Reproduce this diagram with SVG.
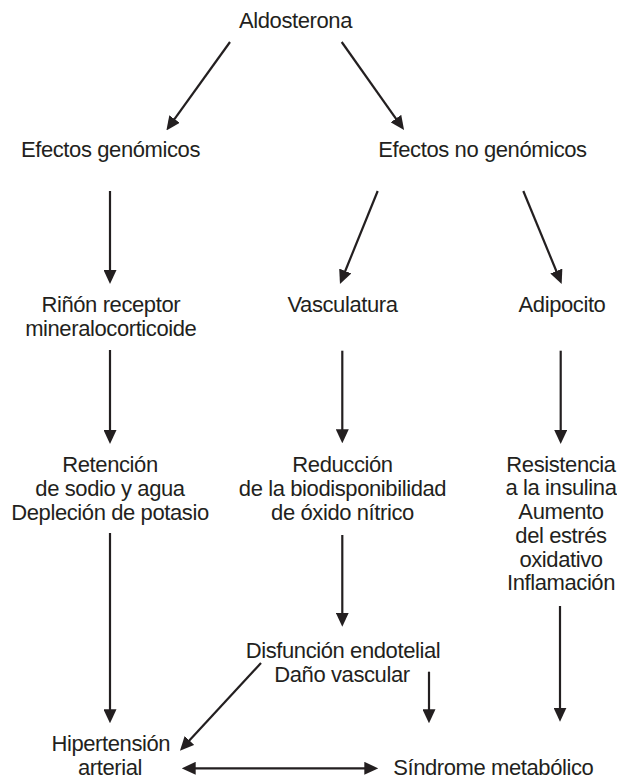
<svg xmlns="http://www.w3.org/2000/svg" width="617" height="779" viewBox="0 0 617 779">
<style>
text{font-family:"Liberation Sans",Arial,sans-serif;font-size:22px;letter-spacing:-0.4px;fill:#231f20;text-anchor:middle}
.c line{stroke:#231f20;stroke-width:2.2;marker-end:url(#ah)}
</style>
<defs>
<marker id="ah" markerUnits="userSpaceOnUse" viewBox="0 0 14 13" markerWidth="14" markerHeight="13" refX="7" refY="6.5" orient="auto-start-reverse">
<path d="M0,0 L14,6.5 L0,13 z" fill="#231f20"/>
</marker>
</defs>
<rect width="617" height="779" fill="#fff"/>
<g id="aldosterona"><text x="295.5" y="28.3">Aldosterona</text></g>
<g id="efectos-genomicos"><text x="110.5" y="156.7">Efectos genómicos</text></g>
<g id="efectos-no-genomicos"><text x="482.5" y="156.7">Efectos no genómicos</text></g>
<g id="rinon"><text x="110.8" y="311.7">Riñón receptor</text><text x="110.8" y="335.5">mineralocorticoide</text></g>
<g id="vasculatura"><text x="342.5" y="311.7">Vasculatura</text></g>
<g id="adipocito"><text x="562" y="311.7">Adipocito</text></g>
<g id="retencion"><text x="110" y="472">Retención</text><text x="110" y="496">de sodio y agua</text><text x="110" y="520">Depleción de potasio</text></g>
<g id="reduccion"><text x="342.5" y="472">Reducción</text><text x="342.5" y="496">de la biodisponibilidad</text><text x="342.5" y="520">de óxido nítrico</text></g>
<g id="resistencia"><text x="561" y="471.5">Resistencia</text><text x="561" y="495.3">a la insulina</text><text x="561" y="519">Aumento</text><text x="561" y="542.7">del estrés</text><text x="561" y="566.5">oxidativo</text><text x="561" y="590.2">Inflamación</text></g>
<g id="disfuncion"><text x="343" y="658.3">Disfunción endotelial</text><text x="342" y="681.7">Daño vascular</text></g>
<g id="hipertension"><text x="110.8" y="750.5">Hipertensión</text><text x="110" y="775">arterial</text></g>
<g id="sindrome"><text x="493.3" y="775">Síndrome metabólico</text></g>
<g id="connectors" class="c">
<line x1="230" y1="42" x2="170.5" y2="124.7"/>
<line x1="341.7" y1="42" x2="400" y2="124.3"/>
<line x1="110" y1="191" x2="110" y2="277"/>
<line x1="377.7" y1="191" x2="342.6" y2="277.5"/>
<line x1="523.3" y1="191" x2="559" y2="277.5"/>
<line x1="110" y1="350" x2="110" y2="437"/>
<line x1="342.3" y1="350.7" x2="342.3" y2="436.3"/>
<line x1="560.7" y1="350.7" x2="560.7" y2="437"/>
<line x1="110" y1="533" x2="110" y2="716.3"/>
<line x1="342.3" y1="535" x2="342.3" y2="619.7"/>
<line x1="560" y1="606" x2="560" y2="714.7"/>
<line x1="429" y1="671.7" x2="429" y2="716.3"/>
<line x1="261" y1="663" x2="184.7" y2="745.6"/>
<line x1="188.7" y1="768.3" x2="371.3" y2="768.3" marker-start="url(#ah)"/>
</g>
</svg>
